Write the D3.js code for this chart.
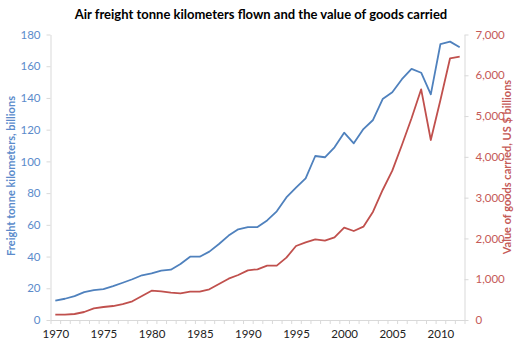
<!DOCTYPE html>
<html>
<head>
<meta charset="utf-8">
<script src="https://cdn.jsdelivr.net/npm/d3@7"></script>
<style>
  html, body { margin: 0; padding: 0; background: #fff; }
  svg { display: block; }
  text { font-family: Lato, "Open Sans", sans-serif; }
</style>
</head>
<body>
<svg id="chart" width="517" height="344"></svg>
<script>
// Years 1970–2012
const years = d3.range(1970, 2013);

// Freight tonne kilometers flown, billions
const freightTkm = [
  12.2, 13.4, 15.1, 17.6, 18.9, 19.5, 21.4, 23.5, 25.7, 28.2,
  29.4, 31.1, 31.7, 35.3, 39.9, 39.9, 43.1, 47.9, 53.2, 57.2,
  58.6, 58.6, 62.8, 68.5, 77.3, 83.4, 89.3, 103.4, 102.6, 108.9,
  118.1, 111.4, 120.4, 126.1, 139.3, 143.6, 151.8, 158.3, 155.9, 142.3,
  174.0, 175.5, 171.9
];

// Value of goods carried, US $ billions
const goodsValue = [
  130, 130, 147, 196, 286, 319, 343, 392, 458, 588,
  719, 703, 670, 654, 694, 694, 752, 883, 1013, 1103,
  1218, 1243, 1332, 1332, 1528, 1814, 1905, 1975, 1945, 2027,
  2264, 2182, 2289, 2656, 3188, 3662, 4291, 4945, 5656, 4414,
  5394, 6417, 6457
];

const leftTicks = [0, 20, 40, 60, 80, 100, 120, 140, 160, 180];
const rightTicks = [0, 1000, 2000, 3000, 4000, 5000, 6000, 7000];
const yearLabels = [1970, 1975, 1980, 1985, 1990, 1995, 2000, 2005, 2010];

const titleText = "Air freight tonne kilometers flown and the value of goods carried";
const leftTitle = "Freight tonne kilometers, billions";
const rightTitle = "Value of goods carried, US $ billions";

const blue = "#4f81bd", red = "#c0504d";
const blueText = "#5b8bcb", redText = "#c55a57";
const axisGray = "#d9d9d9";

const svg = d3.select("#chart");
const plot = { left: 50.5, right: 464.5, top: 34.5, bottom: 320 };

const x = d3.scaleLinear().domain([1969.5, 2012.5]).range([plot.left, plot.right]);
const yL = d3.scaleLinear().domain([0, 180]).range([plot.bottom, plot.top]);
const yR = d3.scaleLinear().domain([0, 7000]).range([plot.bottom, plot.top]);

// Title
svg.append("text")
  .attr("x", 261).attr("y", 19)
  .attr("text-anchor", "middle")
  .attr("font-size", 13).attr("font-weight", "bold").attr("fill", "#000")
  .text(titleText);

function styleAxis(g, textColor) {
  g.select(".domain").attr("stroke", axisGray);
  g.selectAll(".tick line").attr("stroke", axisGray);
  g.selectAll(".tick text").attr("fill", textColor).attr("font-size", 11.5)
    .style("font-family", 'Lato, "Open Sans", sans-serif');
}

// Left axis
const gL = svg.append("g").attr("transform", `translate(${plot.left},0)`)
  .call(d3.axisLeft(yL).tickValues(leftTicks).tickSize(4).tickPadding(6).tickSizeOuter(0));
styleAxis(gL, blueText);

// Right axis
const gR = svg.append("g").attr("transform", `translate(${plot.right},0)`)
  .call(d3.axisRight(yR).tickValues(rightTicks).tickSize(4).tickPadding(7).tickSizeOuter(0)
    .tickFormat(d3.format(",")));
styleAxis(gR, redText);

// Bottom axis: tick marks between years, labels every five years
const boundaries = d3.range(1969.5, 2013, 1);
const gB = svg.append("g").attr("transform", `translate(0,${plot.bottom})`)
  .call(d3.axisBottom(x).tickValues(boundaries).tickSize(4).tickFormat("").tickSizeOuter(0));
styleAxis(gB, "#000");
const gB2 = svg.append("g").attr("transform", `translate(0,${plot.bottom})`)
  .call(d3.axisBottom(x).tickValues(yearLabels).tickSize(0).tickPadding(10).tickFormat(d3.format("d")));
gB2.select(".domain").remove();
styleAxis(gB2, "#222");

// Axis titles
svg.append("text")
  .attr("transform", `translate(15,176) rotate(-90)`)
  .attr("text-anchor", "middle")
  .attr("font-size", 11).attr("font-weight", "bold").attr("fill", blueText)
  .text(leftTitle);
svg.append("text")
  .attr("transform", `translate(511,167) rotate(-90)`)
  .attr("text-anchor", "middle")
  .attr("font-size", 11).attr("font-weight", "bold").attr("fill", redText)
  .text(rightTitle);

// Lines
const lineL = d3.line().x((d, i) => x(years[i])).y(d => yL(d));
const lineR = d3.line().x((d, i) => x(years[i])).y(d => yR(d));

svg.append("path").datum(goodsValue)
  .attr("fill", "none").attr("stroke", red).attr("stroke-width", 1.8)
  .attr("stroke-linejoin", "round").attr("d", lineR);
svg.append("path").datum(freightTkm)
  .attr("fill", "none").attr("stroke", blue).attr("stroke-width", 1.8)
  .attr("stroke-linejoin", "round").attr("d", lineL);
</script>
</body>
</html>
